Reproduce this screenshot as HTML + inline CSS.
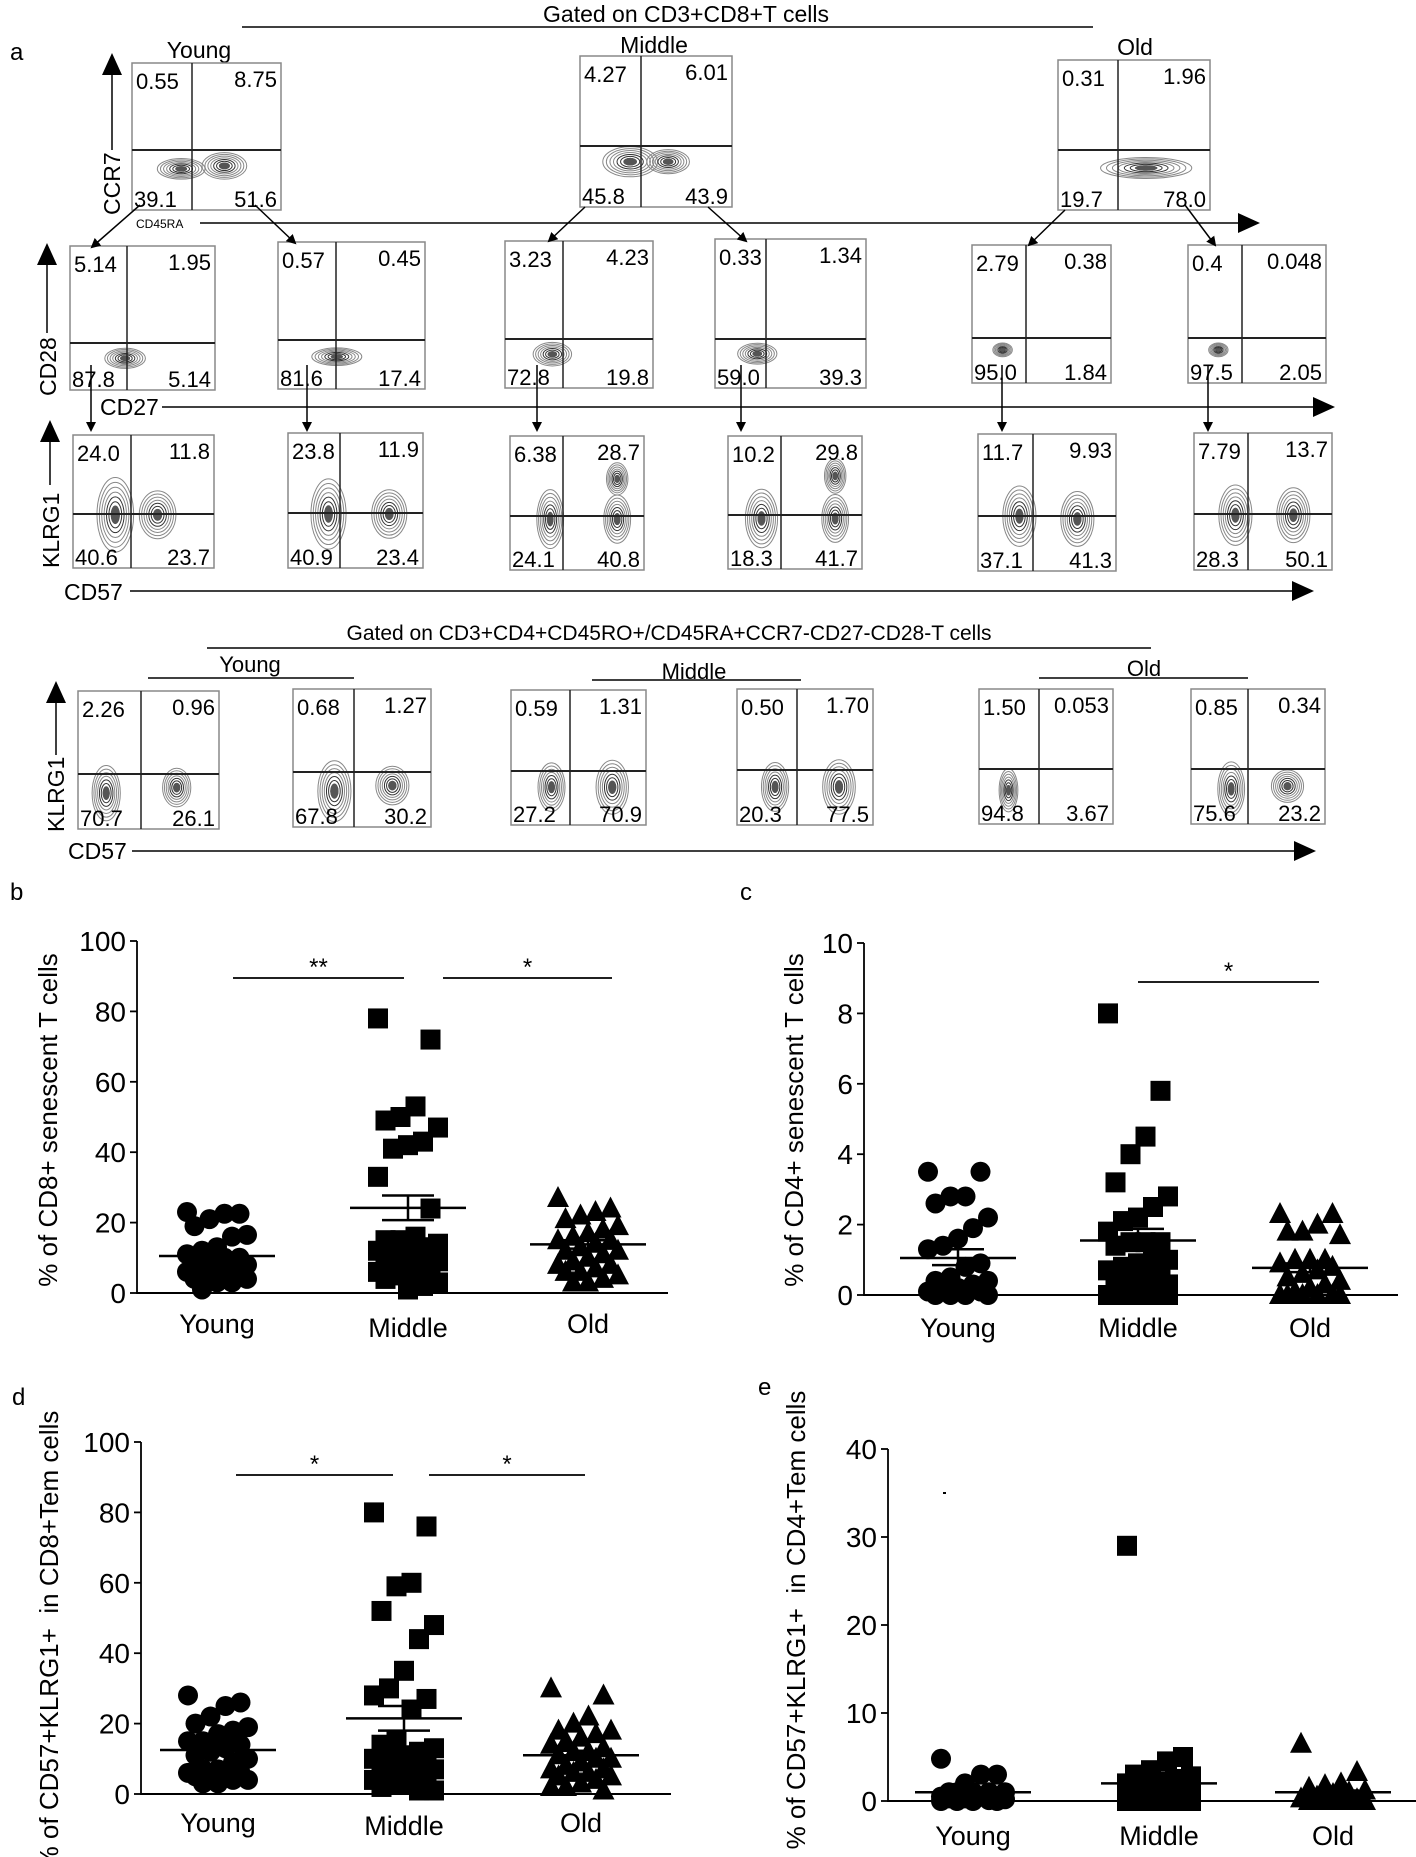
<!DOCTYPE html>
<html><head><meta charset="utf-8"><style>
html,body{margin:0;padding:0;background:#fff}
svg{display:block;font-family:"Liberation Sans",Arial,sans-serif}
</style></head><body>
<svg id="s" width="1416" height="1857" viewBox="0 0 1416 1857" xmlns="http://www.w3.org/2000/svg">
<defs><marker id="ah" markerWidth="10" markerHeight="10" refX="8" refY="5" orient="auto" markerUnits="userSpaceOnUse"><path d="M0,0 L10,5 L0,10z" fill="#000"/></marker>
<marker id="bh" markerWidth="22" markerHeight="20" refX="20" refY="10" orient="auto" markerUnits="userSpaceOnUse"><path d="M0,0 L22,10 L0,20z" fill="#000"/></marker></defs>
<g id="g"></g>
</svg>
<script>
var o='';
function T(x,y,t,sz,anc,extra){o+='<text x="'+x+'" y="'+y+'" font-size="'+sz+'" text-anchor="'+(anc||'start')+'" '+(extra||'')+'>'+t+'</text>';}
function L(x1,y1,x2,y2,w,c,ex){o+='<line x1="'+x1+'" y1="'+y1+'" x2="'+x2+'" y2="'+y2+'" stroke="'+(c||'#000')+'" stroke-width="'+(w||1.5)+'" '+(ex||'')+'/>';}
T(10,60,'a',24);
T(686,22,'Gated on CD3+CD8+T cells',23,'middle');L(242,27,1093,27,1.5);
T(199,58,'Young',23,'middle');T(654,53,'Middle',23,'middle');T(1135,55,'Old',23,'middle');
function blob(b,bx){var x0=b[0],y0=b[1],w=b[2]-b[0],h=b[3]-b[1];
 var cx=x0+bx[0]*w,cy=y0+bx[1]*h,rx=bx[2]*w,ry=bx[3]*h;
 for(var k=0;k<7;k++){var f=1-k*0.13;o+='<ellipse cx="'+cx+'" cy="'+cy+'" rx="'+(rx*f)+'" ry="'+(ry*f)+'" fill="none" stroke="'+(k>3?'#333':'#888')+'" stroke-width="1"/>';}
 o+='<ellipse cx="'+cx+'" cy="'+cy+'" rx="'+(rx*0.25)+'" ry="'+(ry*0.25)+'" fill="#555"/>';}
function box(b,n,blobs){
 o+='<rect x="'+b[0]+'" y="'+b[1]+'" width="'+(b[2]-b[0])+'" height="'+(b[3]-b[1])+'" fill="none" stroke="#888" stroke-width="1.5"/>';
 (blobs||[]).forEach(function(q){blob(b,q)});
 L(b[4],b[1],b[4],b[3],1.5,'#222');L(b[0],b[5],b[2],b[5],2,'#222');
 T(b[0]+4,b[1]+26,n[0],22);T(b[2]-4,b[1]+24,n[1],22,'end');
 T(b[0]+2,b[3]-3,n[2],22);T(b[2]-4,b[3]-3,n[3],22,'end');}
var R1=[[132,63,281,210,192,150],[580,56,732,207,641,146],[1058,60,1210,210,1118,150]];
var N1=[['0.55','8.75','39.1','51.6'],['4.27','6.01','45.8','43.9'],['0.31','1.96','19.7','78.0']];
var B1=[[[0.33,0.72,0.16,0.07],[0.62,0.7,0.15,0.09]],[[0.33,0.7,0.18,0.1],[0.58,0.7,0.14,0.08]],[[0.58,0.72,0.3,0.07]]];
R1.forEach(function(b,i){box(b,N1[i],B1[i])});
var R2=[[70,246,215,390,127,343],[278,242,425,389,336,340],[505,241,653,388,563,339],[715,239,866,388,766,339],[972,245,1111,383,1026,338],[1188,245,1326,383,1242,338]];
var N2=[['5.14','1.95','87.8','5.14'],['0.57','0.45','81.6','17.4'],['3.23','4.23','72.8','19.8'],['0.33','1.34','59.0','39.3'],['2.79','0.38','95.0','1.84'],['0.4','0.048','97.5','2.05']];
var B2=[[[0.38,0.78,0.14,0.07]],[[0.4,0.78,0.17,0.06]],[[0.32,0.77,0.13,0.08]],[[0.28,0.77,0.13,0.07]],[[0.22,0.76,0.07,0.05]],[[0.22,0.76,0.07,0.05]]];
R2.forEach(function(b,i){box(b,N2[i],B2[i])});
var R3=[[73,435,214,568,131,514],[288,433,423,568,340,513],[510,436,644,570,563,516],[728,436,862,569,781,515],[978,434,1116,571,1033,516],[1194,433,1332,570,1248,514]];
var N3=[['24.0','11.8','40.6','23.7'],['23.8','11.9','40.9','23.4'],['6.38','28.7','24.1','40.8'],['10.2','29.8','18.3','41.7'],['11.7','9.93','37.1','41.3'],['7.79','13.7','28.3','50.1']];
var B3=[[[0.3,0.6,0.13,0.28],[0.6,0.6,0.13,0.18]],[[0.3,0.6,0.13,0.26],[0.75,0.6,0.13,0.18]],[[0.3,0.62,0.1,0.22],[0.8,0.62,0.1,0.18],[0.8,0.32,0.08,0.12]],[[0.25,0.62,0.12,0.22],[0.8,0.62,0.1,0.18],[0.8,0.3,0.08,0.13]],[[0.3,0.6,0.12,0.22],[0.72,0.62,0.12,0.2]],[[0.3,0.6,0.12,0.22],[0.72,0.6,0.12,0.2]]];
R3.forEach(function(b,i){box(b,N3[i],B3[i])});
var R4=[[78,691,219,829,141,774],[293,689,431,827,354,772],[511,690,646,825,570,771],[737,689,873,825,797,770],[979,689,1113,824,1039,769],[1191,689,1325,824,1248,769]];
var N4=[['2.26','0.96','70.7','26.1'],['0.68','1.27','67.8','30.2'],['0.59','1.31','27.2','70.9'],['0.50','1.70','20.3','77.5'],['1.50','0.053','94.8','3.67'],['0.85','0.34','75.6','23.2']];
var B4=[[[0.2,0.74,0.1,0.2],[0.7,0.7,0.1,0.14]],[[0.3,0.74,0.12,0.22],[0.72,0.7,0.12,0.14]],[[0.3,0.72,0.1,0.18],[0.75,0.72,0.12,0.2]],[[0.28,0.72,0.1,0.18],[0.75,0.72,0.12,0.2]],[[0.22,0.75,0.07,0.16]],[[0.3,0.74,0.1,0.2],[0.72,0.72,0.12,0.12]]];
R4.forEach(function(b,i){box(b,N4[i],B4[i])});
var A='marker-end="url(#ah)"';
[[140,205,92,247],[255,205,295,243],[585,207,549,241],[708,207,746,241],[1065,210,1029,245],[1185,205,1215,245]].forEach(function(a){L(a[0],a[1],a[2],a[3],1.5,'#000',A)});
[91,307,537,741,1002,1208].forEach(function(x){L(x,365,x,430,1.5,'#000',A)});
var B='marker-end="url(#bh)"';
L(112,150,112,55,1.5,'#000',B);
o+='<text font-size="23" transform="translate(120,215) rotate(-90)">CCR7</text>';
L(200,223,1258,223,1.5,'#000',B);T(136,228,'CD45RA',12);
L(47,333,47,245,1.5,'#000',B);o+='<text font-size="23" transform="translate(56,396) rotate(-90)">CD28</text>';
L(162,407,1333,407,1.5,'#000',B);T(100,415,'CD27',23);
L(50,485,50,422,1.5,'#000',B);o+='<text font-size="23" transform="translate(59,568) rotate(-90)">KLRG1</text>';
L(130,591,1312,591,1.5,'#000',B);T(64,600,'CD57',23);
T(669,640,'Gated on CD3+CD4+CD45RO+/CD45RA+CCR7-CD27-CD28-T cells',21,'middle');L(207,648,1151,648,1.5);
T(250,672,'Young',22,'middle');L(148,678,354,678,1.5);
T(694,679,'Middle',22,'middle');L(592,680,801,680,1.5);
T(1144,676,'Old',22,'middle');L(1039,678,1248,678,1.5);
L(56,755,56,683,1.5,'#000',B);o+='<text font-size="23" transform="translate(64,832) rotate(-90)">KLRG1</text>';
L(132,851,1314,851,1.5,'#000',B);T(68,859,'CD57',23);
function panel(p){
 var y0=p.y0,yt=p.yt,ax=p.ax;var sc=(y0-yt)/p.max;
 T(p.lx,p.ly,p.letter,24);
 L(ax,yt,ax,y0+1,1.8);L(ax,y0,p.xe,y0,2);
 for(var v=0;v<=p.max;v+=p.step){var y=y0-v*sc;L(ax-7,y,ax,y,1.8);T(ax-11,y+10,v,28,'end');}
 o+='<text font-size="26" text-anchor="middle" transform="translate('+(p.ylx)+','+p.yly+') rotate(-90)">'+p.ylab+'</text>';
 var labs=['Young','Middle','Old'];
 p.cx.forEach(function(cx,i){T(cx,p.laby[i],labs[i],27,'middle');
  var vals=p.data[i].slice().sort(function(a,b){return b-a});
  vals.forEach(function(v,j){var dx=(((j*7)%9)-4)/4*p.hw;var x=cx+dx,y=y0-v*sc;
   if(i==0)o+='<circle cx="'+x+'" cy="'+y+'" r="10"/>';
   else if(i==1)o+='<rect x="'+(x-10)+'" y="'+(y-10)+'" width="20" height="20"/>';
   else o+='<path d="M'+x+','+(y-12)+' L'+(x+11)+','+(y+9)+' L'+(x-11)+','+(y+9)+'z"/>';});
  var m=p.mean[i];L(cx-p.mw,y0-m[0]*sc,cx+p.mw,y0-m[0]*sc,2.5);
  L(cx,y0-m[1]*sc,cx,y0-m[2]*sc,2.5);L(cx-26,y0-m[1]*sc,cx+26,y0-m[1]*sc,2.5);L(cx-26,y0-m[2]*sc,cx+26,y0-m[2]*sc,2.5);});
 (p.sig||[]).forEach(function(s){L(s[0],s[2],s[1],s[2],1.8);T((s[0]+s[1])/2,s[2]-3,s[3],24,'middle');});
}
panel({letter:'b',lx:10,ly:900,ax:137,yt:941,y0:1293,max:100,step:20,xe:668,cx:[217,408,588],laby:[1333,1337,1333],hw:30,mw:58,
 ylx:57,yly:1120,ylab:'% of CD8+ senescent T cells',
 data:[[23,22.5,22.5,21,19,16,16.5,13,12,11,10,10,9,9,8,8,7,7,6,6,5,5,4,4,3,3,1],
 [78,72,53,50,49,47,43,42,41,33,24,16,15,15,14,13,13,12,12,11,10,10,9,9,8,7,7,6,6,5,5,4,3,2,1],
 [27,24,23,22,21,19,18,17,16,15,15,14,13,12,12,11,10,9,8,8,7,6,6,5,4,3,3]],
 mean:[[10.5,11.5,9.5],[24.2,27.7,20.7],[13.8,15,12.6]],sig:[[233,404,978,'**'],[443,612,978,'*']]});
panel({letter:'c',lx:740,ly:900,ax:864,yt:943,y0:1295,max:10,step:2,xe:1398,cx:[958,1138,1310],laby:[1337,1337,1337],hw:30,mw:58,
 ylx:803,yly:1120,ylab:'% of CD4+ senescent T cells',
 data:[[3.5,3.5,2.8,2.8,2.6,2.2,1.9,1.6,1.4,1.3,0.8,0.9,0.5,0.4,0.4,0.3,0.2,0.2,0.1,0.1,0,0,0,0],
 [8,5.8,4.5,4,3.2,2.8,2.5,2.2,2.1,1.5,1.5,1.5,1.8,1.4,1,1,0.9,0.8,0.7,0.5,0.5,0.4,0.3,0.3,0.2,0.2,0.1,0,0,0,0,0,0],
 [2.3,2.3,2,1.8,1.8,1.7,1,1,1,0.9,0.8,0.7,0.6,0.5,0.4,0.3,0.2,0.1,0,0,0,0,0,0]],
 mean:[[1.05,1.3,0.85],[1.55,1.88,1.3],[0.77,0.9,0.65]],sig:[[1138,1319,982,'*']]});
panel({letter:'d',lx:12,ly:1405,ax:141,yt:1442,y0:1794,max:100,step:20,xe:671,cx:[218,404,581],laby:[1832,1835,1832],hw:30,mw:58,
 ylx:58,yly:1640,ylab:'% of CD57+KLRG1+ &#160;in CD8+Tem cells',
 data:[[28,26,25,22,20,19,18,17,15,15,14,13,12,11,10,9,7,7,6,6,5,5,5,4,4,3,3],
 [80,76,60,59,52,48,44,35,30,28,27,24,15,14,13,12,11,10,10,9,9,8,8,7,6,5,5,4,4,3,3,2,1,1],
 [30,28,22,20,18,18,17,16,15,14,13,12,12,11,10,10,9,8,7,7,6,6,5,5,4,3,2,2,1]],
 mean:[[12.5,14,11],[21.5,25,18],[11,12.3,9.7]],sig:[[236,393,1475,'*'],[429,585,1475,'*']]});
panel({letter:'e',lx:758,ly:1395,ax:888,yt:1449,y0:1801,max:40,step:10,xe:1416,cx:[973,1159,1333],laby:[1845,1845,1845],hw:32,mw:58,
 ylx:805,yly:1620,ylab:'% of CD57+KLRG1+ &#160;in CD4+Tem cells',
 data:[[4.8,3,3,2,1,1,1,1,1,0.5,0.5,0.5,0.3,0.3,0.2,0.1,0,0,0,0],
 [29,5,4.5,3.5,3,2.8,2.5,2.2,2,2,1.8,1.5,1.5,1.2,1,1,0.8,0.5,0.5,0.3,0.2,0,0,0,0,0,0,0],
 [6.5,3.3,2,1.8,1.5,1.2,1,0.8,0.5,0.3,0.2,0,0,0,0,0,0]],
 mean:[[1,1.2,0.8],[2,2.8,1.5],[1,1.2,0.8]]});
o+='<rect x="943" y="1492" width="3" height="2"/>';
document.getElementById('g').innerHTML=o;
</script>
</body></html>
